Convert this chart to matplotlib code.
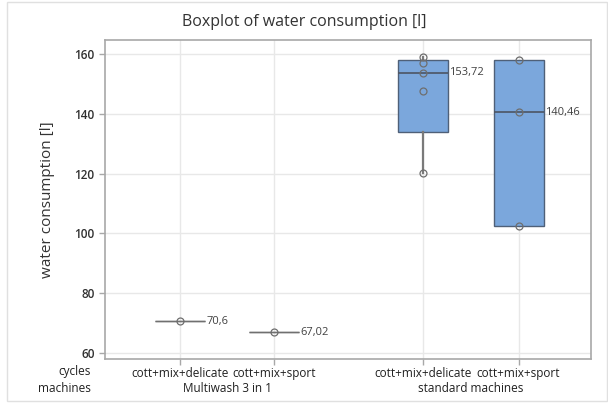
import numpy as np
import matplotlib.pyplot as plt
from matplotlib.patches import Rectangle

plt.rcParams['font.family'] = ['Open Sans', 'DejaVu Sans']

# water consumption per cycle mix, two machine groups
cycles = ["cott+mix+delicate", "cott+mix+sport", "cott+mix+delicate", "cott+mix+sport"]
machines = ["Multiwash 3 in 1", "standard machines"]
multi_delicate = [70.6]
multi_sport = [67.02]
std_delicate = [120.2, 147.8, 153.72, 156.9, 159.1]
std_sport = [102.4, 140.46, 158.0]
series = [multi_delicate, multi_sport, std_delicate, std_sport]
positions = [1, 2, 3.58, 4.6]

# box statistics with (n+1)p quartiles
stats = []
for vals in series:
    v = np.array(vals)
    q1, med, q3 = np.percentile(v, [25, 50, 75], method='weibull')
    stats.append(dict(med=med, q1=q1, q3=q3, whislo=v.min(), whishi=v.max(), fliers=[]))

fig = plt.figure(figsize=(6.08, 4.08), dpi=100)
ax = fig.add_axes([105 / 608, 1 - 359 / 408, (591 - 105) / 608, (359 - 40) / 408])

# light frame around the whole figure
fig.patches.append(Rectangle((7 / 608, 7 / 408), 600 / 608, 399 / 408, transform=fig.transFigure,
                             fill=False, edgecolor='#e0e0e0', linewidth=1))

bp = ax.bxp(stats, positions=positions, widths=0.53, patch_artist=True, showcaps=False, showfliers=False,
            boxprops=dict(facecolor='#7ba7dc', edgecolor='#4f6078', linewidth=1),
            medianprops=dict(color='#4d5563', linewidth=1.2),
            whiskerprops=dict(color='#7a7a7a', linewidth=1.6))

# single-value groups collapse to a plain gray line
for box, med, s in zip(bp['boxes'], bp['medians'], stats):
    if s['q1'] == s['q3']:
        box.set_edgecolor('#707070')
        med.set_color('#707070')
        med.set_linewidth(1.0)

for p, vals in zip(positions, series):
    ax.plot([p] * len(vals), vals, 'o', markersize=5, markerfacecolor='none',
            markeredgecolor='#6e6e6e', markeredgewidth=0.9, zorder=5)

# median value labels
for p, s in zip(positions, stats):
    txt = ('%.2f' % s['med']).rstrip('0').rstrip('.').replace('.', ',')
    ax.text(p + 0.28, s['med'], txt, va='center', ha='left', fontsize=8, color='#404040')

ax.set_xlim(0.2, 5.37)
ax.set_ylim(58, 164.7)
ax.set_yticks([60, 80, 100, 120, 140, 160])
ax.set_xticks(positions)
ax.set_xticklabels(cycles)
ax.grid(True, color='#e8e8e8', linewidth=1)
ax.set_axisbelow(True)
for sp in ax.spines.values():
    sp.set_color('#a8a8a8')
    sp.set_linewidth(1.2)
ax.tick_params(axis='both', colors='#a8a8a8', length=4, width=1)
ax.tick_params(axis='y', labelsize=8.5, labelcolor='#303030')
ax.tick_params(axis='x', labelsize=8.5, labelcolor='#202020', pad=2)
for lab in ax.get_yticklabels():
    lab.set_fontweight('semibold')

# second row of category labels
ax.text(-0.03, -0.02, "cycles", transform=ax.transAxes, ha='right', va='top', fontsize=8.5, color='#202020')
ax.text(-0.03, -0.072, "machines", transform=ax.transAxes, ha='right', va='top', fontsize=8.5, color='#202020')
for m, (a, b) in zip(machines, [(positions[0], positions[1]), (positions[2], positions[3])]):
    ax.text((a + b) / 2, -0.072, m, transform=ax.get_xaxis_transform(), ha='center', va='top',
            fontsize=8.5, color='#202020')

ax.set_ylabel("water consumption [l]", fontsize=11, color='#333333', labelpad=14)
fig.text(0.5, 1 - 22 / 408, "Boxplot of water consumption [l]", ha='center', va='center',
         fontsize=11.5, color='#333333')

fig.savefig('out.png', dpi=100)
